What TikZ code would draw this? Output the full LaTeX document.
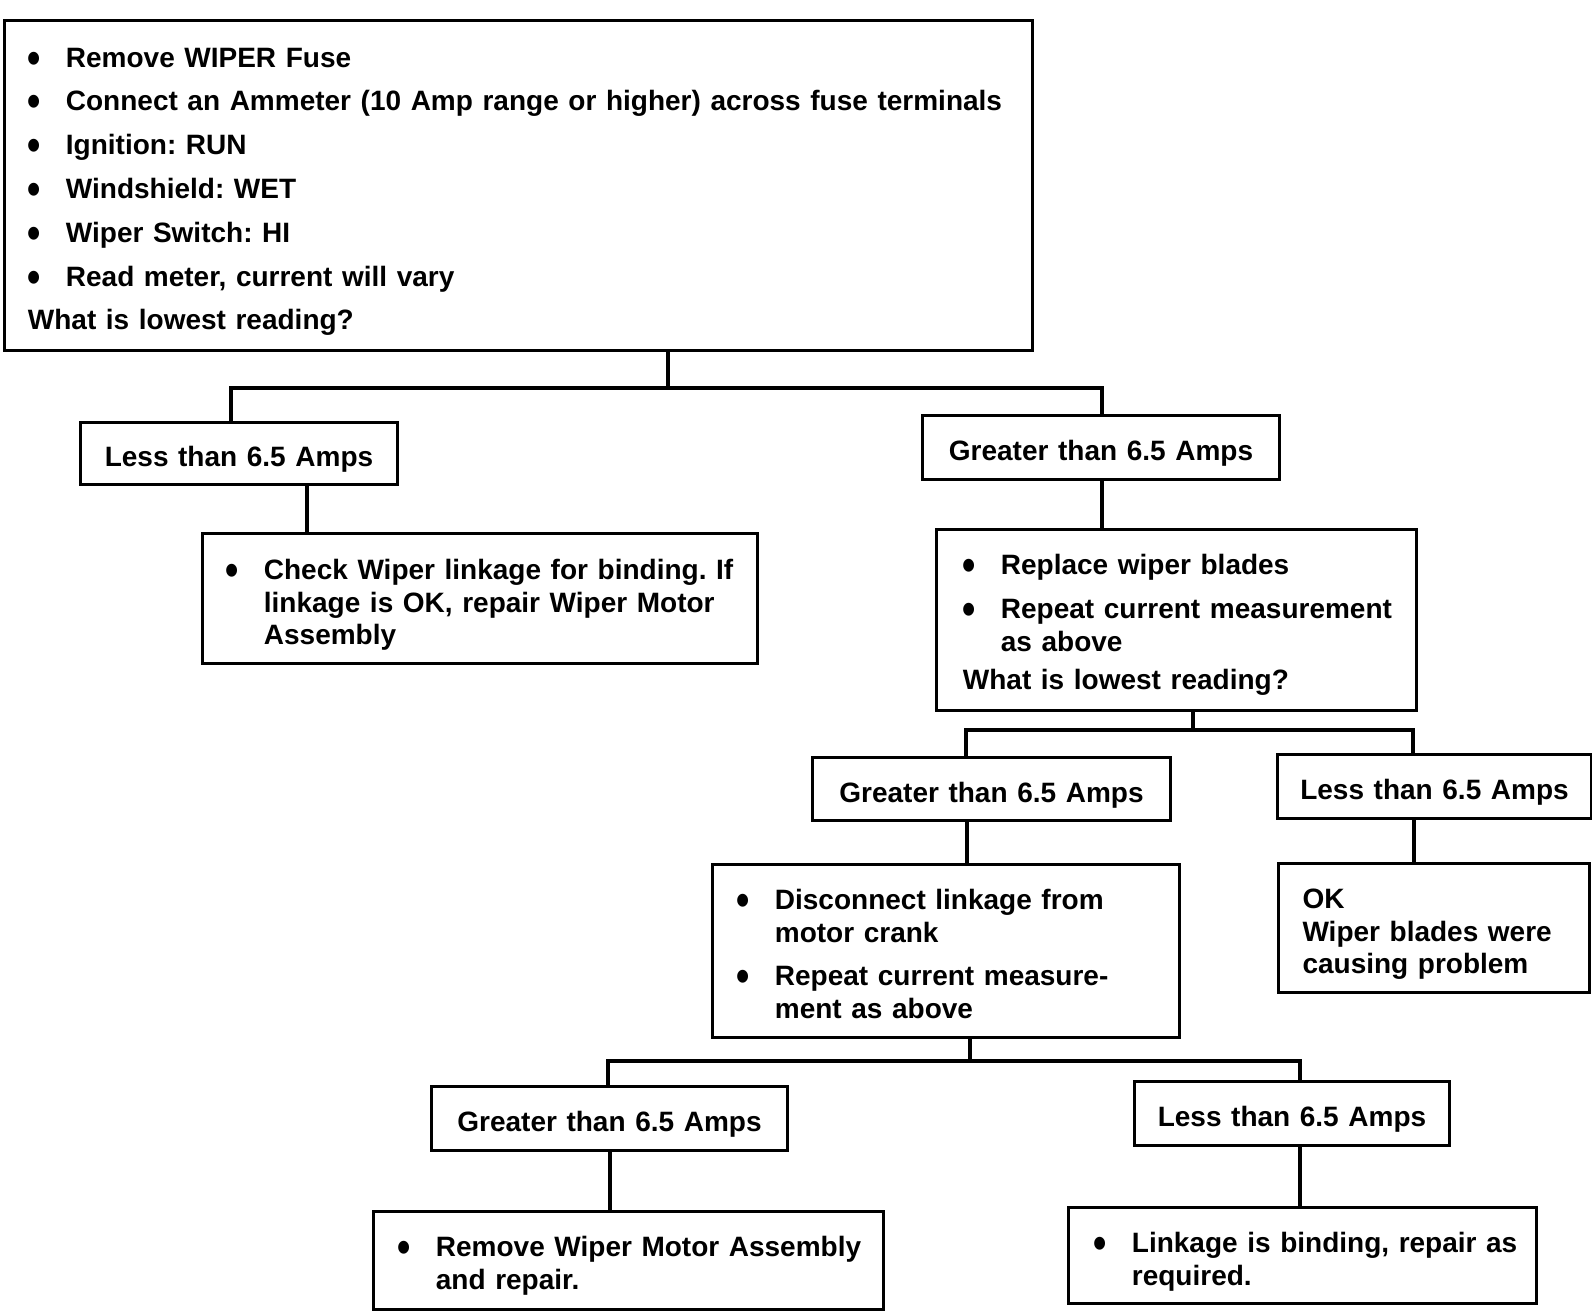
\documentclass[tikz,border=0pt]{standalone}
\usepackage{fontspec}
\setmainfont{Liberation Sans}
\usepackage{graphicx}
\frenchspacing
\newlength\bulw
\setlength\bulw{38pt}
\newcommand\bu{\makebox[\bulw][l]{\raisebox{-6pt}{\scalebox{1.35}[1.6]{\textbullet}}}}
\newcommand\ind{\hspace*{\bulw}}
\newcommand\diagfont{\fontsize{28}{32.5}\selectfont\bfseries\frenchspacing\spaceskip=9.6pt plus 2pt minus 1pt\relax}
% #1 width, #2 height, #3 left pad, #4 first baseline offset, #5 content
\newcommand\boxtext[5]{\parbox[c][#2pt][t]{#1pt}{\leftskip=#3pt\rightskip=0pt plus 1fil\parindent=0pt\baselineskip=32.5pt
\vspace*{\dimexpr#4pt-21pt\relax}\rule{0pt}{21pt}#5\par}}
\tikzset{
  txtbox/.style={draw, line width=3pt, inner sep=0pt, anchor=north west,
    font=\diagfont},
  lblbox/.style={draw, line width=3pt, inner sep=0pt, anchor=north west,
    text height=26pt, text depth=0pt, font=\diagfont},
  conn/.style={line width=4pt, line join=miter}
}
\begin{document}
\begin{tikzpicture}[x=1pt,y=-1pt]
\useasboundingbox (0,0) rectangle (1592,1312);
\fill[white] (0,0) rectangle (1592,1312);

% top box
\node[txtbox] (T) at (3,19) {\boxtext{1028}{330}{23.4}{46.5}{%
\bu Remove WIPER Fuse\\[11.3pt]
\bu Connect an Ammeter (10 Amp range or higher) across fuse terminals\\[11.3pt]
\bu Ignition: RUN\\[11.3pt]
\bu Windshield: WET\\[11.3pt]
\bu Wiper Switch: HI\\[11.3pt]
\bu Read meter, current will vary\\[11.3pt]
What is lowest reading?}};

% level 1
\node[lblbox, minimum width=317pt, minimum height=62pt] (L1) at (79,421) {Less than 6.5 Amps};
\node[lblbox, minimum width=357pt, minimum height=64pt] (R1) at (921,414) {Greater than 6.5 Amps};

\node[txtbox] (L1b) at (201,532) {\boxtext{555}{130}{23.4}{46}{%
\bu Check Wiper linkage for binding. If\\
\ind linkage is OK, repair Wiper Motor\\
\ind Assembly}};

\node[txtbox] (R1b) at (935,528) {\boxtext{480}{181}{26.4}{45}{%
\bu Replace wiper blades\\[11.5pt]
\bu Repeat current measurement\\
\ind as above\\[5.5pt]
What is lowest reading?}};

% level 2
\node[lblbox, minimum width=358pt, minimum height=63pt] (R2L) at (811,756) {Greater than 6.5 Amps};
\node[lblbox, minimum width=314pt, minimum height=64pt] (R2R) at (1276,753) {Less than 6.5 Amps};

\node[txtbox] (R2Lb) at (711,863) {\boxtext{467}{173}{24.4}{45}{%
\bu Disconnect linkage from\\
\ind motor crank\\[11pt]
\bu Repeat current measure-\\
\ind ment as above}};

\node[txtbox] (R2Rb) at (1277,862) {\boxtext{311}{129}{24}{45}{%
OK\\
Wiper blades were\\
causing problem}};

% level 3
\node[lblbox, minimum width=356pt, minimum height=64pt] (B1) at (430,1085) {Greater than 6.5 Amps};
\node[lblbox, minimum width=315pt, minimum height=64pt] (B2) at (1133,1080) {Less than 6.5 Amps};

\node[txtbox] (B1b) at (372,1210) {\boxtext{510}{98}{24.4}{45}{%
\bu Remove Wiper Motor Assembly\\
\ind and repair.}};

\node[txtbox] (B2b) at (1067,1206) {\boxtext{468}{96}{25.4}{45}{%
\bu Linkage is binding, repair as\\
\ind required.}};

% connector coordinates
\coordinate (J1) at (668,388);
\coordinate (J1a) at (231,388);
\coordinate (J1b) at (1102,388);
\coordinate (xL1) at (307,0);
\coordinate (J2) at (1193,730);
\coordinate (J2a) at (966,730);
\coordinate (J2b) at (1413,730);
\coordinate (xR2L) at (967,0);
\coordinate (xR2R) at (1414,0);
\coordinate (J3) at (970,1061);
\coordinate (J3a) at (608,1061);
\coordinate (J3b) at (1300,1061);
\coordinate (xB1) at (610,0);
\coordinate (xB2) at (1300,0);

% tree 1
\draw[conn] (T.south -| J1) -- (J1);
\draw[conn] (L1.north -| J1a) -- (J1a) -- (J1b) -- (R1.north -| J1b);
\draw[conn] (L1.south -| xL1) -- (L1b.north -| xL1);
\draw[conn] (R1.south -| J1b) -- (R1b.north -| J1b);

% tree 2
\draw[conn] (R1b.south -| J2) -- (J2);
\draw[conn] (R2L.north -| J2a) -- (J2a) -- (J2b) -- (R2R.north -| J2b);
\draw[conn] (R2L.south -| xR2L) -- (R2Lb.north -| xR2L);
\draw[conn] (R2R.south -| xR2R) -- (R2Rb.north -| xR2R);

% tree 3
\draw[conn] (R2Lb.south -| J3) -- (J3);
\draw[conn] (B1.north -| J3a) -- (J3a) -- (J3b) -- (B2.north -| J3b);
\draw[conn] (B1.south -| xB1) -- (B1b.north -| xB1);
\draw[conn] (B2.south -| xB2) -- (B2b.north -| xB2);
\end{tikzpicture}
\end{document}
